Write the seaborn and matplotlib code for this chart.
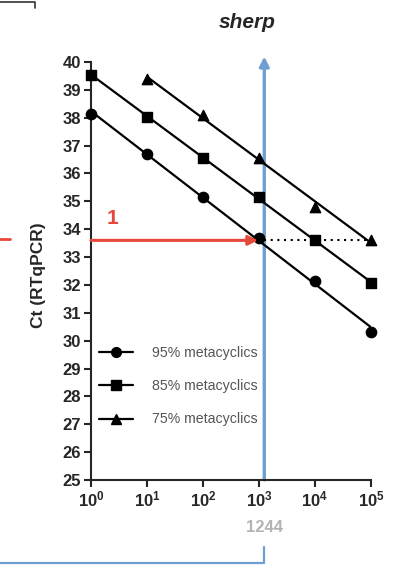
import matplotlib
matplotlib.use('Agg')
import matplotlib.pyplot as plt
import matplotlib.transforms as mtransforms
from matplotlib.lines import Line2D
from matplotlib.ticker import NullLocator
import seaborn as sns
import numpy as np
import pandas as pd

# Dados (sherp)
parasites = [1, 10, 100, 1000, 10000, 100000]
ct_95 = [38.13, 36.7, 35.17, 33.7, 32.15, 30.3]
ct_85 = [39.55, 38.04, 36.55, 35.15, 33.6, 32.07]
parasites_75 = [10, 100, 1000, 10000, 100000]
ct_75 = [39.4, 38.1, 36.55, 34.8, 33.6]
series_labels = ['95% metacyclics', '85% metacyclics', '75% metacyclics']
x_ticklabels = [r'$\mathbf{10^{%d}}$' % i for i in range(6)]
sample_ct = 33.6
sample_parasites = 1244

sns.set_style('ticks')
plt.rcParams['font.family'] = ['Liberation Sans', 'DejaVu Sans']
plt.rcParams['mathtext.fontset'] = 'custom'
plt.rcParams['mathtext.bf'] = 'Liberation Sans:bold'
plt.rcParams['mathtext.rm'] = 'Liberation Sans'

red = '#e5473a'
blue = '#6e9fd2'

fig = plt.figure(figsize=(3.98, 5.70), dpi=100)
ax = fig.add_axes([0.2286, 0.1579, 0.7035, 0.7333])

df95 = pd.DataFrame({'x': parasites, 'ct': ct_95})
df85 = pd.DataFrame({'x': parasites, 'ct': ct_85})
df75 = pd.DataFrame({'x': parasites_75, 'ct': ct_75})

for d, m in [(df95, 'o'), (df85, 's'), (df75, '^')]:
    sns.regplot(data=d, x='x', y='ct', logx=True, ci=None, ax=ax, color='black',
                marker=m, scatter_kws={'s': 55, 'clip_on': False, 'zorder': 4, 'alpha': 1},
                line_kws={'lw': 1.6, 'zorder': 3})

ax.set_xscale('log')
ax.set_xlim(1, 1e5)
ax.set_ylim(25, 40)
ax.set_xticks([10 ** i for i in range(6)])
ax.set_xticklabels(x_ticklabels)
ax.xaxis.set_minor_locator(NullLocator())
ax.set_yticks(range(25, 41))
ax.tick_params(axis='both', length=5, width=1.5, labelsize=12, pad=2)
for lab in ax.get_yticklabels():
    lab.set_fontweight('bold')
sns.despine(ax=ax)
for s in ['left', 'bottom']:
    ax.spines[s].set_linewidth(1.5)
ax.set_xlabel('')
ax.set_ylabel('Ct (RTqPCR)', fontsize=12.5, fontweight='bold')
ax.yaxis.set_label_coords(-0.16, 0.49)

# Legenda
handles = [Line2D([], [], color='black', marker=m, lw=1.6, ms=7) for m in ['o', 's', '^']]
ax.legend(handles, series_labels, loc='upper left', bbox_to_anchor=(0.03, 0.32),
          frameon=False, fontsize=10.2, handlelength=2.4, handletextpad=1.3,
          labelspacing=1.35, borderpad=0, borderaxespad=0, labelcolor='#555555')

# Linha pontilhada e setas
ax.plot([sample_parasites, 1e5], [sample_ct, sample_ct], color='black', lw=1.5,
        linestyle=(0, (1, 2.2)), zorder=2)
ax.annotate('', xy=(960, sample_ct), xytext=(1, sample_ct),
            arrowprops=dict(arrowstyle='-|>', color=red, lw=2.2, mutation_scale=14,
                            shrinkA=0, shrinkB=0), annotation_clip=False, zorder=5)
ax.annotate('', xy=(sample_parasites, 40.2), xytext=(sample_parasites, 25),
            arrowprops=dict(arrowstyle='-|>', color=blue, lw=2.4, mutation_scale=14,
                            shrinkA=0, shrinkB=0), annotation_clip=False, zorder=1)
ax.text(2.47, 34.4, '1', color=red, fontsize=15, fontweight='bold', ha='center', va='center')

# Elementos fora do eixo
trans = mtransforms.blended_transform_factory(ax.transData, fig.transFigure)
ax.text(sample_parasites, 1 - 528 / 570, str(sample_parasites), transform=trans,
        color='#b3b3b3', fontsize=12, fontweight='bold', ha='center', va='center')
ax.plot([1e-3, sample_parasites, sample_parasites], [1 - 563 / 570, 1 - 563 / 570, 1 - 547 / 570],
        transform=trans, color=blue, lw=1.6, clip_on=False)
fig.add_artist(Line2D([0, 10 / 398], [1 - 239 / 570, 1 - 239 / 570], color=red, lw=2))
fig.add_artist(Line2D([0, 35 / 398, 35 / 398], [1 - 2 / 570, 1 - 2 / 570, 1 - 8 / 570],
                      color='#333333', lw=1.2))

fig.text(247 / 398, 1 - 22 / 570, 'sherp', ha='center', va='center', fontsize=15,
         fontweight='bold', style='italic')

fig.savefig('out.png', dpi=100)
